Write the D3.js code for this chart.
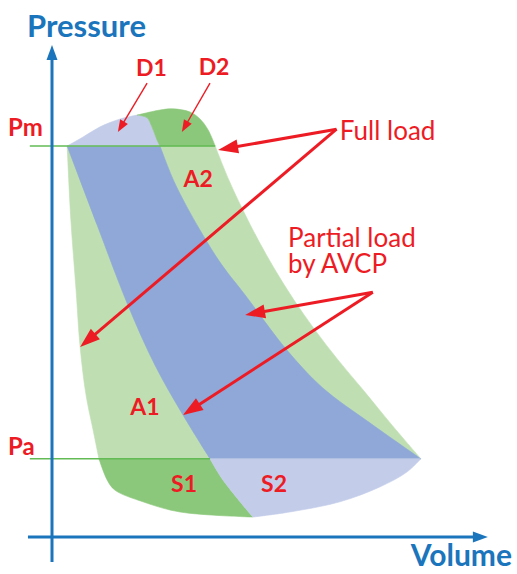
<!DOCTYPE html>
<html>
<head>
<meta charset="utf-8">
<script src="https://cdn.jsdelivr.net/npm/d3@7"></script>
<style>
  html, body { margin: 0; padding: 0; background: #fff; }
  svg { display: block; font-family: Lato, "Open Sans", sans-serif; }
</style>
</head>
<body>
<svg id="chart" width="517" height="574"></svg>
<script>
// Cycle boundaries, points as [volume, pressure] (Pa = 2, Pm = 10)
const OUTER_LEFT = [[0.41, 10], [0.51, 8.11], [0.65, 6.32], [0.76, 4.86], [0.92, 3.63], [1.11, 2.74], [1.27, 2.0]];
const OUTER_LEFT_LOW = [[1.27, 2.0], [1.49, 1.46], [1.70, 1.20], [2.46, 0.90], [3.46, 0.64], [5.43, 0.51]];
const OUTER_RIGHT = [[4.41, 10], [4.78, 9.13], [5.16, 8.36], [5.57, 7.60], [6.03, 6.83], [6.54, 6.06], [7.11, 5.29], [7.73, 4.53], [8.41, 3.76], [9.19, 2.86], [9.97, 2.0]];
const BLUE_LEFT = [[0.41, 10], [1.22, 7.98], [2.03, 5.98], [2.78, 4.40], [3.54, 3.12], [4.27, 2.0]];
const BLUE_LEFT_LOW = [[4.27, 2.0], [4.62, 1.46], [5.43, 0.51]];
const BLUE_RIGHT = [[2.92, 10], [3.32, 9.05], [4.0, 7.85], [4.59, 6.96], [5.22, 6.19], [6.35, 4.78], [7.32, 3.81], [8.59, 2.92], [9.97, 2.0]];
const D1_TOP = [[0.41, 10], [0.84, 10.23], [1.30, 10.49], [1.84, 10.69], [2.30, 10.79]];
const D2_TOP = [[2.30, 10.79], [2.92, 10.92], [3.27, 10.95], [3.73, 10.87], [4.0, 10.69], [4.22, 10.41], [4.41, 10]];
const D_SPLIT = [[2.30, 10.79], [2.57, 10.72], [2.70, 10.49], [2.84, 10.15], [2.92, 10]];
const S2_BOTTOM = [[5.43, 0.51], [6.43, 0.64], [7.78, 0.90], [8.86, 1.28], [9.59, 1.66], [9.97, 2.0]];

// Pressure levels on the y axis
const P_TICKS = [2, 10];
const P_LABELS = ['Pa', 'Pm'];

// Annotation arrows: [from, to]
const FULL_LOAD_FROM = [7.69, 10.43];
const FULL_LOAD_TO = [[4.49, 9.90], [0.76, 4.86]];
const PARTIAL_FROM = [8.67, 6.26];
const PARTIAL_TO = [[5.22, 5.68], [3.54, 3.12]];
const D_ARROWS = [[[2.57, 11.61], [1.78, 10.36]], [[4.27, 11.61], [3.51, 10.36]]];

// Area labels: [text, volume, pressure]
const AREA_LABELS = [
  ['D1', 2.69, 11.79], ['D2', 4.38, 11.82],
  ['A2', 3.95, 8.95], ['A1', 2.51, 3.12],
  ['S1', 3.57, 1.15], ['S2', 6.0, 1.15],
];

const RED = '#ed1c24';
const BLUE = '#1b75bc';

const svg = d3.select('#chart');

const x = d3.scaleLinear().domain([0, 10]).range([52, 422]);
const y = d3.scaleLinear().domain([0, 10]).range([537, 146]);

const curve = d3.line()
  .x(d => x(d[0]))
  .y(d => y(d[1]))
  .curve(d3.curveCatmullRom.alpha(0.5));

const rev = a => a.slice().reverse();

// join several boundary pieces into one closed path
function region(...segs) {
  return segs.map((s, i) => {
    const str = curve(s);
    return i === 0 ? str : 'L' + str.slice(1);
  }).join('') + 'Z';
}

const corner = OUTER_LEFT[0];
const tip = OUTER_RIGHT[OUTER_RIGHT.length - 1];
const paOuter = OUTER_LEFT[OUTER_LEFT.length - 1];
const paBlue = BLUE_LEFT[BLUE_LEFT.length - 1];
const pmOuter = OUTER_RIGHT[0];
const pmBlue = BLUE_RIGHT[0];

const areas = [
  { d: region([corner, pmOuter], OUTER_RIGHT, [tip, paOuter], rev(OUTER_LEFT)), color: '#bfdfb3' },
  { d: region([corner, pmBlue], BLUE_RIGHT, [tip, paBlue], rev(BLUE_LEFT)), color: '#8fa8d8' },
  { d: region(D1_TOP, D_SPLIT, [pmBlue, corner]), color: '#c3cdea' },
  { d: region(D2_TOP, [pmOuter, pmBlue], rev(D_SPLIT)), color: '#8cc87b' },
  { d: region([paOuter, paBlue], BLUE_LEFT_LOW, rev(OUTER_LEFT_LOW)), color: '#8cc87b' },
  { d: region([paBlue, tip], rev(S2_BOTTOM), rev(BLUE_LEFT_LOW)), color: '#c3cdea' },
];

svg.append('g')
  .selectAll('path')
  .data(areas)
  .join('path')
  .attr('d', d => d.d)
  .attr('fill', d => d.color)
  .attr('stroke', d => d.color)
  .attr('stroke-width', 0.6);

// Pm / Pa level lines
svg.append('g')
  .selectAll('line')
  .data([[10, pmOuter[0]], [2, paBlue[0]]])
  .join('line')
  .attr('x1', x(-0.6))
  .attr('x2', d => x(d[1]))
  .attr('y1', d => y(d[0]))
  .attr('y2', d => y(d[0]))
  .attr('stroke', '#62bb55')
  .attr('stroke-width', 1.6);

// line with a filled triangular head
function arrow(g, from, to, opts) {
  const x1 = from[0], y1 = from[1], x2 = to[0], y2 = to[1];
  const len = Math.hypot(x2 - x1, y2 - y1);
  const ux = (x2 - x1) / len, uy = (y2 - y1) / len;
  const bx = x2 - ux * opts.head, by = y2 - uy * opts.head;
  g.append('line')
    .attr('x1', x1).attr('y1', y1)
    .attr('x2', bx + ux * 2).attr('y2', by + uy * 2)
    .attr('stroke', opts.color)
    .attr('stroke-width', opts.width);
  g.append('path')
    .attr('d', `M${x2},${y2}L${bx - uy * opts.half},${by + ux * opts.half}L${bx + uy * opts.half},${by - ux * opts.half}Z`)
    .attr('fill', opts.color);
}

const axisG = svg.append('g');
const axisStyle = { color: BLUE, width: 3, head: 15, half: 5.5 };
arrow(axisG, [x(-0.65), y(0)], [x(11.78), y(0)], axisStyle);
arrow(axisG, [x(0), y(-0.64)], [x(0), y(12.58)], axisStyle);

// Pa / Pm labels as y-axis ticks
const yAxis = d3.axisLeft(y)
  .tickValues(P_TICKS)
  .tickFormat((d, i) => P_LABELS[i])
  .tickSize(0);

const gy = svg.append('g')
  .attr('transform', `translate(${x(0)},0)`)
  .call(yAxis);
gy.select('.domain').remove();
gy.selectAll('text')
  .attr('x', 8 - x(0))
  .attr('dy', null)
  .attr('y', d => d === 10 ? -11 : -4)
  .attr('text-anchor', 'start')
  .attr('fill', RED)
  .style('font-family', 'Lato, sans-serif')
  .style('font-size', '24px')
  .style('font-weight', 700);

// Axis titles
svg.append('text')
  .attr('x', 27).attr('y', 37)
  .attr('fill', BLUE)
  .style('font-size', '31px')
  .style('font-weight', 700)
  .text('Pressure');

svg.append('text')
  .attr('x', 512).attr('y', 566)
  .attr('text-anchor', 'end')
  .attr('fill', BLUE)
  .style('font-size', '30px')
  .style('font-weight', 700)
  .text('Volume');

// Annotation arrows
const annG = svg.append('g');
const bigArrow = { color: RED, width: 3, head: 20, half: 7 };
const thinArrow = { color: RED, width: 1.4, head: 12, half: 4.5 };
const px = p => [x(p[0]), y(p[1])];

FULL_LOAD_TO.forEach(t => arrow(annG, px(FULL_LOAD_FROM), px(t), bigArrow));
PARTIAL_TO.forEach(t => arrow(annG, px(PARTIAL_FROM), px(t), bigArrow));
D_ARROWS.forEach(a => arrow(annG, px(a[0]), px(a[1]), thinArrow));

// Area labels
svg.append('g')
  .selectAll('text')
  .data(AREA_LABELS)
  .join('text')
  .attr('x', d => x(d[1]))
  .attr('y', d => y(d[2]))
  .attr('text-anchor', 'middle')
  .attr('fill', RED)
  .style('font-size', '23px')
  .style('font-weight', 700)
  .text(d => d[0]);

// Load notes
const notes = [
  ['Full load', 7.78, 10.15],
  ['Partial load', 6.38, 7.42],
  ['by AVCP', 6.38, 6.76],
];
svg.append('g')
  .selectAll('text')
  .data(notes)
  .join('text')
  .attr('x', d => x(d[1]))
  .attr('y', d => y(d[2]))
  .attr('fill', RED)
  .style('font-size', '26px')
  .text(d => d[0]);
</script>
</body>
</html>
